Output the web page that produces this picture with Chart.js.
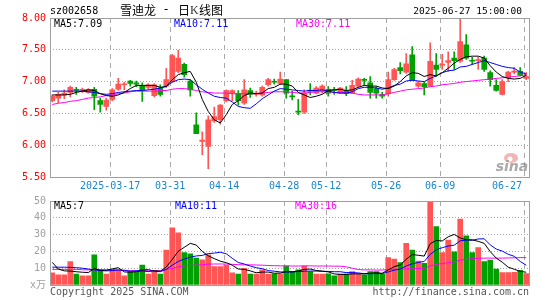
<!DOCTYPE html>
<html lang="zh">
<head>
<meta charset="UTF-8">
<title>雪迪龙 - 日K线图</title>
<script src="https://cdn.jsdelivr.net/npm/chart.js@4.4.1/dist/chart.umd.min.js"></script>
<style>
  body { margin: 0; background: #fff; }
  #wrap { position: relative; width: 545px; height: 300px; }
  #k { position: absolute; left: 0; top: 0; }
  #v { position: absolute; left: 0; top: 190px; }
</style>
</head>
<body>
<div id="wrap">
  <canvas id="k" width="545" height="190"></canvas>
  <canvas id="v" width="545" height="110"></canvas>
</div>
<script>
// daily candles 2025-03-03 .. 2025-06-27 (index 0..79)
var open = [6.70,6.74,6.79,6.83,6.88,6.86,6.83,6.88,6.70,6.61,
  6.72,6.88,6.95,7.01,6.98,6.93,6.91,6.78,6.90,6.93,
  7.00,7.16,7.27,7.01,6.32,6.06,5.98,6.38,6.40,6.70,
  6.82,6.81,6.66,6.86,6.80,6.79,6.95,7.00,6.97,7.03,
  6.77,6.53,6.52,6.86,6.82,6.85,6.88,6.87,6.82,6.86,
  6.82,6.93,7.03,6.98,6.89,6.80,6.81,7.03,7.22,7.15,
  7.42,6.93,6.97,6.93,7.26,7.26,7.30,7.37,7.32,7.58,
  7.33,7.33,7.37,7.14,6.94,6.80,7.06,7.15,7.16,7.05];
var close = [6.77,6.80,6.82,6.91,6.86,6.88,6.88,6.77,6.64,6.71,
  6.87,6.96,6.96,6.97,6.96,6.87,6.95,6.95,6.80,7.03,
  7.41,7.37,7.11,6.87,6.18,6.08,6.40,6.45,6.63,6.86,
  6.86,6.70,6.87,6.80,6.82,6.91,7.03,6.99,7.04,6.82,
  6.76,6.52,6.82,6.85,6.90,6.93,6.82,6.86,6.90,6.81,
  6.94,7.04,7.02,6.83,6.82,6.77,7.03,7.19,7.17,7.28,
  7.03,6.98,6.92,7.32,7.19,7.27,7.33,7.33,7.63,7.37,
  7.32,7.34,7.19,7.03,6.86,7.00,7.15,7.16,7.10,7.08];
var high = [6.79,6.83,6.87,6.93,6.91,6.90,6.89,6.91,6.74,6.74,
  6.89,7.05,6.99,7.02,7.01,6.98,6.97,6.97,6.95,7.21,
  7.43,7.49,7.29,7.03,6.51,6.21,6.46,6.60,6.64,6.87,
  6.87,6.86,7.03,6.90,6.85,6.93,7.05,7.04,7.15,7.03,
  6.85,6.72,6.87,6.97,6.92,6.95,6.92,6.91,6.91,6.92,
  7.02,7.06,7.05,7.08,6.92,6.83,7.15,7.21,7.30,7.44,
  7.55,7.00,6.99,7.61,7.44,7.43,7.47,7.47,7.98,7.74,
  7.38,7.38,7.40,7.17,7.03,7.03,7.16,7.22,7.22,7.14];
var low = [6.68,6.67,6.73,6.76,6.80,6.83,6.82,6.56,6.52,6.55,
  6.70,6.86,6.87,6.93,6.92,6.69,6.88,6.76,6.77,6.91,
  6.99,7.14,7.07,6.77,6.18,5.85,5.63,6.36,6.33,6.68,
  6.70,6.63,6.64,6.75,6.77,6.77,6.93,6.96,6.95,6.74,
  6.71,6.48,6.50,6.79,6.81,6.82,6.77,6.80,6.81,6.78,
  6.81,6.91,6.94,6.74,6.74,6.74,6.77,7.02,7.12,7.13,
  7.02,6.91,6.79,6.93,7.08,7.19,7.16,7.19,7.30,7.35,
  7.27,7.19,7.16,6.93,6.85,6.79,7.00,7.12,7.09,7.03];

var ma5 = [6.79,6.79,6.79,6.80,6.83,6.85,6.87,6.86,6.81,6.78,
  6.77,6.79,6.83,6.89,6.94,6.94,6.94,6.94,6.91,6.92,
  7.03,7.11,7.14,7.16,6.99,6.72,6.53,6.40,6.35,6.48,
  6.64,6.70,6.78,6.82,6.81,6.82,6.89,6.91,6.96,6.96,
  6.93,6.83,6.79,6.75,6.77,6.80,6.86,6.87,6.88,6.86,
  6.87,6.91,6.94,6.93,6.93,6.90,6.89,6.93,7.00,7.09,
  7.14,7.13,7.08,7.11,7.09,7.14,7.21,7.29,7.35,7.39,
  7.40,7.40,7.37,7.25,7.15,7.08,7.05,7.04,7.05,7.10];
var ma10 = [6.85,6.85,6.85,6.85,6.85,6.85,6.84,6.83,6.81,6.80,
  6.81,6.83,6.84,6.85,6.86,6.86,6.87,6.88,6.90,6.93,
  6.99,7.03,7.04,7.03,6.95,6.88,6.82,6.77,6.75,6.74,
  6.68,6.61,6.59,6.58,6.65,6.73,6.79,6.85,6.89,6.88,
  6.87,6.86,6.85,6.86,6.86,6.87,6.85,6.83,6.82,6.82,
  6.84,6.89,6.91,6.91,6.90,6.88,6.90,6.94,6.96,7.01,
  7.02,7.01,7.00,7.05,7.09,7.14,7.17,7.18,7.23,7.24,
  7.27,7.30,7.33,7.30,7.27,7.24,7.22,7.21,7.15,7.12];
var ma30 = [6.64,6.66,6.67,6.69,6.70,6.72,6.74,6.75,6.76,6.78,
  6.79,6.81,6.82,6.84,6.85,6.85,6.85,6.85,6.86,6.86,
  6.88,6.89,6.89,6.88,6.86,6.84,6.83,6.82,6.82,6.82,
  6.81,6.81,6.81,6.81,6.81,6.82,6.83,6.84,6.84,6.84,
  6.83,6.82,6.82,6.83,6.84,6.84,6.84,6.83,6.83,6.83,
  6.82,6.80,6.79,6.79,6.79,6.79,6.81,6.83,6.85,6.87,
  6.88,6.89,6.90,6.92,6.93,6.95,6.96,6.97,6.99,7.00,
  7.01,7.02,7.03,7.04,7.05,7.06,7.07,7.08,7.09,7.11];

// volume, 万手
var vol = [7.3,6.0,6.0,13.9,6.5,5.4,5.4,17.9,9.0,6.5,
  9.3,9.0,5.4,8.0,8.0,11.9,6.5,8.0,6.5,20.8,
  34.1,31.1,19.3,18.5,16.0,15.0,18.0,10.9,10.9,11.9,
  7.3,6.5,9.9,6.5,6.5,9.0,6.5,6.7,6.7,11.3,
  8.0,9.0,11.3,8.0,6.5,6.5,6.7,5.4,6.5,6.5,
  8.0,6.7,6.0,8.0,8.0,6.5,16.3,15.5,13.3,24.8,
  20.8,14.3,12.9,50.0,34.7,19.3,26.8,19.8,39.3,29.2,
  19.3,22.2,13.9,14.9,9.5,7.4,7.4,7.6,8.8,6.8];
var vma5 = [13.5,9.5,8.4,8.3,7.9,7.6,7.4,9.8,8.8,8.8,
  9.6,10.3,7.8,7.6,7.9,8.5,8.0,8.5,8.2,10.7,
  15.2,20.1,22.4,24.8,23.8,20.0,17.4,15.7,14.2,13.3,
  11.8,9.5,9.3,8.4,7.3,7.7,7.7,7.0,7.1,8.0,
  7.8,8.3,9.3,9.5,8.6,8.3,7.8,6.6,6.3,6.3,
  6.6,6.6,6.7,7.0,7.3,7.0,9.0,10.9,11.9,15.3,
  18.1,17.7,17.2,24.6,26.5,26.2,28.7,30.1,28.0,26.9,
  26.9,26.0,24.8,19.9,16.0,13.6,10.6,9.4,8.1,7.6];
var vma10 = [10.6,10.6,10.6,10.5,10.3,10.0,9.5,9.0,8.6,8.4,
  8.6,8.9,8.8,8.2,8.4,9.0,9.2,8.2,7.9,9.3,
  11.8,14.0,15.4,16.5,17.3,17.6,18.7,19.0,19.5,18.6,
  15.9,13.4,12.5,11.3,10.3,9.7,8.6,8.2,7.8,7.7,
  7.8,8.0,8.2,8.3,8.3,8.1,8.1,7.9,7.9,7.4,
  7.4,7.2,6.7,6.7,6.8,6.8,7.8,8.8,9.5,11.3,
  12.6,13.4,14.0,18.2,20.9,22.2,23.2,23.7,26.3,26.7,
  26.6,27.4,27.5,23.9,21.4,20.2,18.3,17.1,14.0,11.8];
var vma30 = [9.3,9.3,9.3,9.3,9.3,9.1,9.0,9.0,9.0,9.0,
  9.0,9.0,8.6,8.5,8.5,8.5,8.5,8.5,8.5,9.2,
  9.8,10.8,11.4,11.7,11.8,12.1,12.4,12.5,12.5,12.5,
  12.3,12.1,12.0,12.0,11.9,11.8,11.6,11.5,11.4,11.4,
  11.3,11.3,11.4,11.4,11.3,11.3,11.3,11.2,11.2,10.8,
  10.0,9.2,9.0,9.0,8.9,8.9,9.2,9.3,9.4,9.6,
  9.7,9.8,9.9,11.3,12.3,12.7,13.3,13.8,14.8,15.3,
  15.6,15.9,16.0,16.0,16.0,16.0,16.1,16.2,16.3,16.3];

// date ticks: candle index and label
var tickIdx = [10, 20, 29, 39, 46, 56, 65, 79];
var tickText = ['2025-03-17','03-31','04-14','04-28','05-12','05-26','06-09','06-27'];

var RED = '#ff5555', GREEN = '#00a000';
var MONO = 'DejaVu Sans Mono, Noto Sans CJK SC, monospace';
Chart.defaults.font.family = MONO;

var colors = close.map(function(c, i){ return c >= open[i] ? RED : GREEN; });
function pts(arr){ return arr.map(function(v, i){ return {x: i, y: v}; }); }
function maLine(arr, col){
  return {type: 'line', data: pts(arr), borderColor: col, borderWidth: 1,
          pointRadius: 0, tension: 0, order: 0};
}

// gray frame around the plot area
var frame = {
  id: 'frame',
  afterDatasetsDraw: function(chart){
    var a = chart.chartArea, c = chart.ctx;
    c.save();
    c.strokeStyle = '#a0a0a0'; c.lineWidth = 1;
    c.strokeRect(Math.round(a.left) + 0.5, Math.round(a.top) + 0.5,
                 Math.round(a.right - a.left) - 1, Math.round(a.bottom - a.top));
    c.restore();
  }
};

function text(c, s, x, y, col, font, align){
  c.fillStyle = col; c.font = font; c.textAlign = align || 'left';
  c.textBaseline = 'middle'; c.fillText(s, x, y);
}

var kText = {
  id: 'kText',
  afterDraw: function(chart){
    var c = chart.ctx, xs = chart.scales.x;
    c.save();
    text(c, 'sz002658', 50, 11, '#000', '10px ' + MONO);
    text(c, '雪迪龙', 120, 10, '#000', '12px Noto Sans CJK SC');
    text(c, '-', 166, 10, '#000', '12px ' + MONO, 'center');
    text(c, '日', 178, 10, '#000', '12px Noto Sans CJK SC');
    text(c, 'K', 190, 10.5, '#333', '12px Liberation Serif');
    text(c, '线图', 199, 10, '#000', '12px Noto Sans CJK SC');
    text(c, '2025-06-27 15:00:00', 522, 11.5, '#000', '9.5px ' + MONO, 'right');
    text(c, 'MA5:7.09', 54, 24.5, '#000', '10px ' + MONO);
    text(c, 'MA10:7.11', 174, 24.5, '#0000ff', '10px ' + MONO);
    text(c, 'MA30:7.11', 296, 24.5, '#ff00ff', '10px ' + MONO);
    tickIdx.forEach(function(idx, j){
      var px = xs.getPixelForValue(idx - 0.35);
      var last = j === tickIdx.length - 1;
      text(c, tickText[j], last ? px - 2 : px, 186, '#1a86d0', '10px ' + MONO, last ? 'right' : 'center');
    });
    // sina watermark
    c.fillStyle = 'rgba(235,120,120,0.55)';
    c.beginPath(); c.ellipse(511, 158, 7, 5, 0, 0, Math.PI * 2); c.fill();
    c.fillStyle = '#fff';
    c.beginPath(); c.arc(510, 159, 2.5, 0, Math.PI * 2); c.fill();
    text(c, 'sina', 512, 167.5, 'rgba(140,140,140,0.75)', 'italic bold 14px DejaVu Sans', 'center');
    c.restore();
  }
};

var vText = {
  id: 'vText',
  afterDraw: function(chart){
    var c = chart.ctx;
    c.save();
    text(c, 'MA5:7', 54, 16, '#000', '10px ' + MONO);
    text(c, 'MA10:11', 175, 16, '#0000ff', '10px ' + MONO);
    text(c, 'MA30:16', 295, 16, '#ff00ff', '10px ' + MONO);
    text(c, 'Copyright 2025 SINA.COM', 50, 102, '#555', '10px ' + MONO);
    text(c, 'http://finance.sina.com.cn', 529, 102, '#555', '10px ' + MONO, 'right');
    c.restore();
  }
};

function xScale(){
  return {
    type: 'linear', min: -0.38, max: 79.55, offset: false,
    grid: {color: '#aaaaaa', drawTicks: false, offset: false},
    border: {display: false, dash: [5, 4]},
    ticks: {display: false},
    afterBuildTicks: function(s){ s.ticks = tickIdx.map(function(i){ return {value: i - 0.35}; }); },
    afterFit: function(s){ s.height = 0; }
  };
}

new Chart(document.getElementById('k'), {
  type: 'bar',
  data: {
    datasets: [
      maLine(ma5, '#000000'),
      maLine(ma10, '#0000ff'),
      maLine(ma30, '#ff00ff'),
      {type: 'bar', data: low.map(function(l, i){ return {x: i, y: [l, high[i]]}; }),
       backgroundColor: colors, barThickness: 1, grouped: false, order: 2},
      {type: 'bar', data: open.map(function(o, i){ return {x: i, y: [Math.min(o, close[i]), Math.max(o, close[i])]}; }),
       backgroundColor: colors, barThickness: 5, minBarLength: 1, grouped: false, order: 1}
    ]
  },
  options: {
    responsive: false, animation: false, devicePixelRatio: 1,
    layout: {padding: {top: 18, right: 15.5, bottom: 13, left: 0}},
    plugins: {legend: {display: false}, tooltip: {enabled: false}},
    scales: {
      x: xScale(),
      y: {
        min: 5.5, max: 8,
        grid: {color: '#a8a8a8', drawTicks: false},
        border: {display: false, dash: [1, 2]},
        ticks: {stepSize: 0.5, color: '#ff0000', padding: 4, font: {size: 10},
                callback: function(v){ return v.toFixed(2); }},
        afterFit: function(s){ s.width = 50; }
      }
    }
  },
  plugins: [frame, kText]
});

new Chart(document.getElementById('v'), {
  type: 'bar',
  data: {
    datasets: [
      maLine(vma5, '#000000'),
      maLine(vma10, '#0000ff'),
      maLine(vma30, '#ff00ff'),
      {type: 'bar', data: pts(vol), backgroundColor: colors, barThickness: 5, grouped: false, order: 1}
    ]
  },
  options: {
    responsive: false, animation: false, devicePixelRatio: 1,
    layout: {padding: {top: 11, right: 15.5, bottom: 15, left: 0}},
    plugins: {legend: {display: false}, tooltip: {enabled: false}},
    scales: {
      x: xScale(),
      y: {
        min: 0, max: 50,
        grid: {color: '#a8a8a8', drawTicks: false},
        border: {display: false, dash: [1, 2]},
        ticks: {stepSize: 10, color: '#a0a0a0', padding: 4, font: {size: 10},
                callback: function(v){ return v === 0 ? 'x万' : v; }},
        afterFit: function(s){ s.width = 50; }
      }
    }
  },
  plugins: [frame, vText]
});
</script>
</body>
</html>
